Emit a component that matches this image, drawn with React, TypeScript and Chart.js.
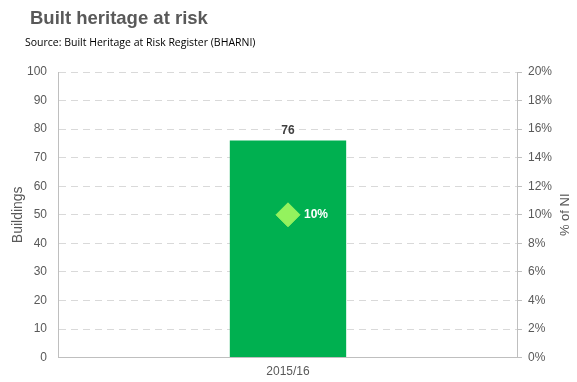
import React, { useEffect, useRef } from "react";
import { Chart, registerables } from "chart.js";

Chart.register(...registerables);

const categories = ["2015/16"];
const buildings = [76];
const percentNI = [10];
const leftTicks = { min: 0, max: 100, step: 10 };
const rightTicks = { min: 0, max: 20, step: 2 };
const titleText = "Built heritage at risk";
const subtitleText = "Source: Built Heritage at Risk Register (BHARNI)";
const rightTitle = "% of NI";

const FONT = "'Liberation Sans', Arial, sans-serif";

const labelsPlugin = {
  id: "customLabels",
  afterDraw(chart: any) {
    const ctx = chart.ctx;
    ctx.save();
    ctx.textBaseline = "middle";
    ctx.textAlign = "left";
    ctx.fillStyle = "#595959";
    ctx.font = `bold 18.5px ${FONT}`;
    ctx.fillText(titleText, 30, 19);
    ctx.fillStyle = "#000000";
    ctx.font = `10.5px 'Open Sans', ${FONT}`;
    ctx.fillText(subtitleText, 25, 43);

    const barMeta = chart.getDatasetMeta(0);
    barMeta.data.forEach((el: any, i: number) => {
      ctx.fillStyle = "#404040";
      ctx.font = `bold 12px ${FONT}`;
      ctx.textAlign = "center";
      ctx.textBaseline = "bottom";
      ctx.fillText(String(buildings[i]), el.x, el.y - 4);
    });
    const ptMeta = chart.getDatasetMeta(1);
    ptMeta.data.forEach((el: any, i: number) => {
      ctx.fillStyle = "#ffffff";
      ctx.font = `bold 12px ${FONT}`;
      ctx.textAlign = "left";
      ctx.textBaseline = "middle";
      ctx.fillText(percentNI[i] + "%", el.x + 16, el.y);
    });

    // right axis title, reading bottom-to-top
    const area = chart.chartArea;
    ctx.translate(565, (area.top + area.bottom) / 2);
    ctx.rotate(-Math.PI / 2);
    ctx.fillStyle = "#595959";
    ctx.font = `13px ${FONT}`;
    ctx.textAlign = "center";
    ctx.textBaseline = "middle";
    ctx.fillText(rightTitle, 0, 0);
    ctx.restore();
  },
};

export default function App() {
  const ref = useRef<HTMLCanvasElement>(null);
  useEffect(() => {
    const chart = new Chart(ref.current!, {
      type: "bar",
      data: {
        labels: categories,
        datasets: [
          {
            type: "bar",
            label: "Buildings",
            data: buildings,
            backgroundColor: "#00B050",
            yAxisID: "y",
            barPercentage: 0.253,
            categoryPercentage: 1,
            order: 2,
          },
          {
            type: "line",
            label: "% of NI",
            data: percentNI,
            yAxisID: "y1",
            showLine: false,
            pointStyle: "rectRot",
            pointRadius: 12,
            pointBackgroundColor: "#94F25E",
            pointBorderColor: "#94F25E",
            order: 1,
          } as any,
        ],
      },
      options: {
        responsive: false,
        animation: false,
        layout: { padding: { top: 72, left: 0, right: 19, bottom: -4 } },
        plugins: {
          legend: { display: false },
          tooltip: { enabled: false },
          title: { display: false },
        },
        scales: {
          x: {
            grid: { display: false, drawTicks: false },
            border: { color: "#BFBFBF" },
            ticks: { color: "#595959", font: { family: FONT, size: 12 }, padding: 7 },
          },
          y: {
            position: "left",
            min: leftTicks.min,
            max: leftTicks.max,
            afterFit: (scale: any) => {
              scale.width = 58;
            },
            ticks: { stepSize: leftTicks.step, color: "#595959", font: { family: FONT, size: 12 }, padding: 11 },
            grid: { color: "#D9D9D9", drawTicks: false },
            border: { color: "#BFBFBF", dash: [7, 5] } as any,
            title: {
              display: true,
              text: "Buildings",
              color: "#595959",
              font: { family: FONT, size: 14 },
              padding: { top: 10, bottom: 0 },
            },
          },
          y1: {
            position: "right",
            min: rightTicks.min,
            max: rightTicks.max,
            ticks: {
              stepSize: rightTicks.step,
              color: "#595959",
              font: { family: FONT, size: 12 },
              padding: 6,
              callback: (v: any) => v + "%",
            },
            grid: { drawOnChartArea: false, color: "#BFBFBF", tickLength: 4 },
            border: { color: "#BFBFBF" },
          },
        },
      } as any,
      plugins: [labelsPlugin],
    });
    return () => chart.destroy();
  }, []);
  return (
    <div style={{ position: "absolute", left: 0, top: 0, width: 577, height: 382, background: "#fff" }}>
      <canvas ref={ref} width={577} height={382} />
    </div>
  );
}
